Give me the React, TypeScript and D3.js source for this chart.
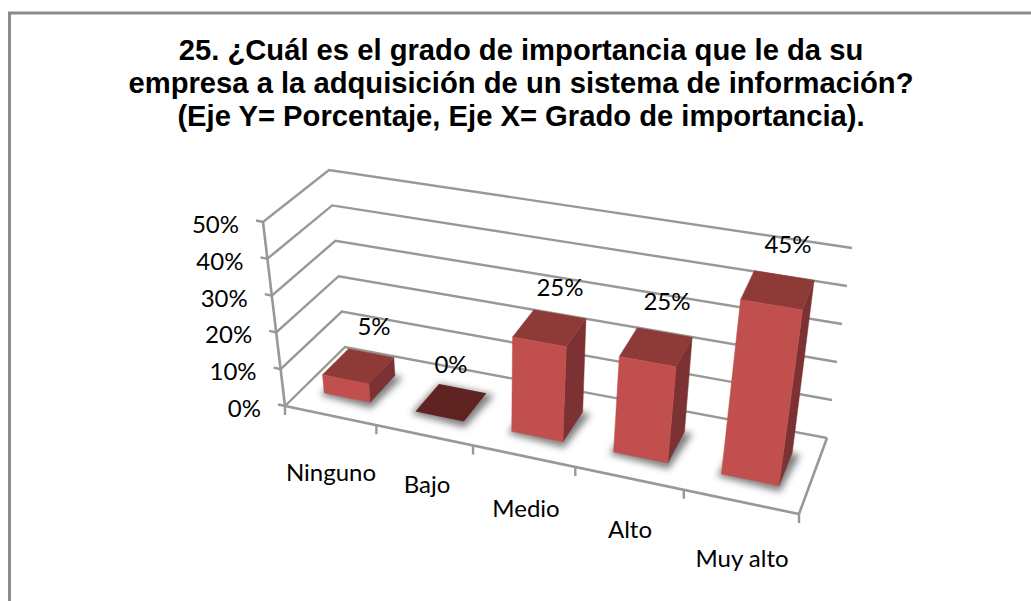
import React from "react";
import * as d3 from "d3";

const categories = ["Ninguno", "Bajo", "Medio", "Alto", "Muy alto"];
const values = [5, 0, 25, 25, 45];
const valueTicks = [0, 10, 20, 30, 40, 50];
const titleLines = [
  "25. ¿Cuál es el grado de importancia que le da su",
  "empresa a la adquisición de un sistema de información?",
  "(Eje Y= Porcentaje, Eje X= Grado de importancia).",
];
const floorFL: [number, number] = [285, 406];
const floorFR: [number, number] = [799, 514];
const floorBR: [number, number] = [827, 438];
const floorBL: [number, number] = [345, 347];
const riseFL: [number, number] = [-22, -184];
const riseFR: [number, number] = [30, -198];
const riseBR: [number, number] = [25, -190];
const riseBL: [number, number] = [-16, -177];

type P = [number, number];
// unit square -> quad homography (Heckbert)
function makeFloor(p0: P, p1: P, p2: P, p3: P) {
  const dx1 = p1[0] - p2[0], dx2 = p3[0] - p2[0], sx = p0[0] - p1[0] + p2[0] - p3[0];
  const dy1 = p1[1] - p2[1], dy2 = p3[1] - p2[1], sy = p0[1] - p1[1] + p2[1] - p3[1];
  const det = dx1 * dy2 - dx2 * dy1;
  const g = (sx * dy2 - dx2 * sy) / det;
  const h = (dx1 * sy - sx * dy1) / det;
  const a = p1[0] - p0[0] + g * p1[0], b = p3[0] - p0[0] + h * p3[0], c = p0[0];
  const d = p1[1] - p0[1] + g * p1[1], e = p3[1] - p0[1] + h * p3[1], f = p0[1];
  return (s: number, t: number): P => {
    const w = g * s + h * t + 1;
    return [(a * s + b * t + c) / w, (d * s + e * t + f) / w];
  };
}
const floor = makeFloor(floorFL, floorFR, floorBR, floorBL);
const catScale = d3.scaleLinear().domain([0, categories.length]).range([0, 1]);
const heightScale = d3.scaleLinear().domain([0, 50]).range([0, 1]);
const mix = (a: P, b: P, t: number): P => [a[0] + (b[0] - a[0]) * t, a[1] + (b[1] - a[1]) * t];

function project(cat: number, depth: number, value: number): P {
  const s = catScale(cat);
  const base = floor(s, depth);
  const rise = mix(mix(riseFL, riseFR, s), mix(riseBL, riseBR, s), depth);
  const h = heightScale(value);
  return [base[0] + rise[0] * h, base[1] + rise[1] * h];
}
const poly = (pts: P[]) => d3.line()(pts) + "Z";

const BAR_INSET = 0.245;
const DEPTH_FRONT = 0.28;
const DEPTH_BACK = 0.72;
const GRID = "#989898";
const LABEL_FONT = "Lato, 'Open Sans', sans-serif";

const catLabelPos: P[] = [[331, 481], [427, 493], [526, 517], [630, 538], [742, 567]];
const valueLabelPos: P[] = [[374, 335], [451, 373], [560, 296], [667, 310], [788, 253]];

export default function App() {
  return (
    <svg width={1031} height={601} style={{ position: "absolute", left: 0, top: 0, background: "#fff" }}>
      <defs>
        <filter id="soft" x="-30%" y="-30%" width="160%" height="160%">
          <feGaussianBlur stdDeviation="3.5" />
        </filter>
        <filter id="aa"><feGaussianBlur stdDeviation="0.45" /></filter>
      </defs>
      <path d="M9.5,601V13H1031" fill="none" stroke="#8c8c8c" strokeWidth={3} />

      {titleLines.map((t, i) => (
        <text key={i} x={521} y={60 + i * 33.2} textAnchor="middle" fontFamily="'Liberation Sans', Arial, sans-serif"
          fontWeight="bold" fontSize={29.2} fill="#000">{t}</text>
      ))}

      <g filter="url(#aa)">
        {valueTicks.map((v) => {
          const a = project(0, 0, v), b = project(0, 1, v), c = project(5, 1, v);
          const tick: P = [a[0] - 7, a[1] - 1.5];
          return <path key={v} d={d3.line()([tick, a, b, c]) ?? ""} fill="none" stroke={GRID} strokeWidth={2.4} />;
        })}
        <path d={d3.line()([project(0, 0, 0), project(0, 0, 50)]) ?? ""} stroke={GRID} strokeWidth={2.6} fill="none" />
        <path d={d3.line()([project(0, 0, 0), project(5, 0, 0), project(5, 1, 0)]) ?? ""} stroke={GRID} strokeWidth={2.6} fill="none" />
        {d3.range(categories.length + 1).map((i) => {
          const a = project(i, 0, 0);
          return <path key={i} d={d3.line()([a, [a[0], a[1] + 9]]) ?? ""} stroke={GRID} strokeWidth={2.4} fill="none" />;
        })}
      </g>

      {values.map((v, i) => {
        const l = i + BAR_INSET, r = i + 1 - BAR_INSET;
        const f0 = DEPTH_FRONT, b0 = DEPTH_BACK;
        const fl0 = project(l, f0, 0), fr0 = project(r, f0, 0), br0 = project(r, b0, 0), bl0 = project(l, b0, 0);
        const flt = project(l, f0, v), frt = project(r, f0, v), brt = project(r, b0, v), blt = project(l, b0, v);
        const shadow: P[] = [[fl0[0] - 4, fl0[1] + 2], [fr0[0] + 1, fr0[1] + 6], [br0[0] + 8, br0[1] + 2], [bl0[0], bl0[1]]];
        return (
          <g key={i}>
            <path d={poly(shadow)} fill="#555" opacity={0.75} filter="url(#soft)" />
            {v === 0 ? (
              <path d={poly([fl0, fr0, br0, bl0])} fill="#5F2321" />
            ) : (
              <g filter="url(#aa)">
                <path d={poly([fr0, br0, brt, frt])} fill="#7C3130" stroke="#7C3130" strokeWidth={0.5} />
                <path d={poly([flt, frt, brt, blt])} fill="#8E3A38" stroke="#8E3A38" strokeWidth={0.5} />
                <path d={poly([fl0, fr0, frt, flt])} fill="#C0504D" stroke="#C0504D" strokeWidth={0.5} />
              </g>
            )}
          </g>
        );
      })}

      <g fontFamily={LABEL_FONT} fontSize={24} fill="#000">
        {valueTicks.map((v) => {
          const a = project(0, 0, v);
          return <text key={v} x={a[0] - 24} y={a[1] + 11} textAnchor="end">{v}%</text>;
        })}
        {categories.map((c, i) => (
          <text key={c} x={catLabelPos[i][0]} y={catLabelPos[i][1]} textAnchor="middle">{c}</text>
        ))}
        {values.map((v, i) => (
          <text key={i} x={valueLabelPos[i][0]} y={valueLabelPos[i][1]} textAnchor="middle">{v}%</text>
        ))}
      </g>
    </svg>
  );
}
